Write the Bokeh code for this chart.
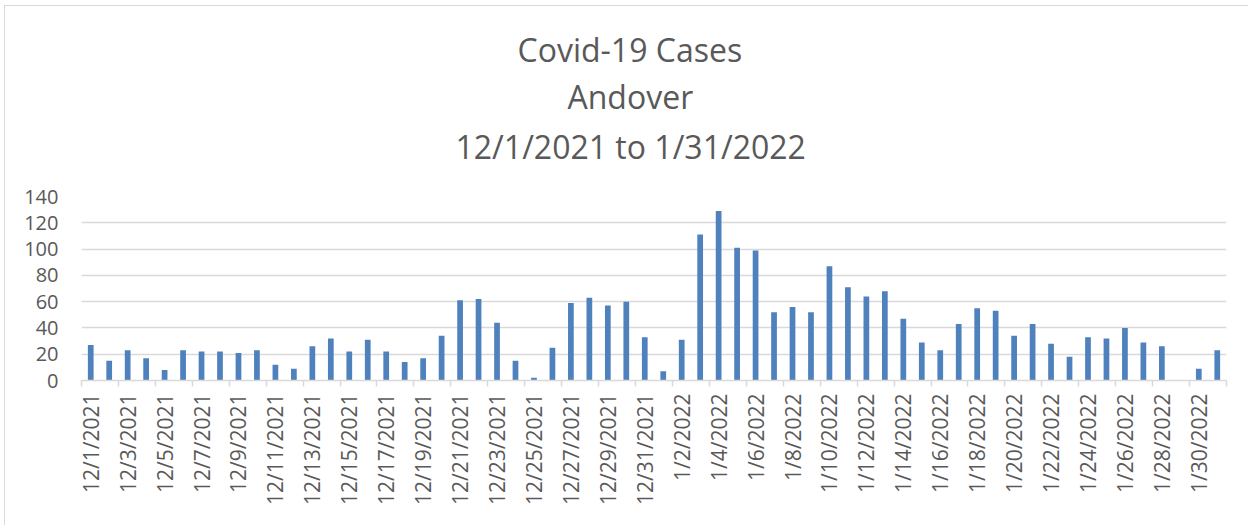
from bokeh.plotting import figure
from bokeh.models import ColumnDataSource, FixedTicker, Range1d, Title
from bokeh.embed import file_html
from bokeh.resources import INLINE
import math

# ---- data ----
dates = [f"12/{d}/2021" for d in range(1, 32)] + [f"1/{d}/2022" for d in range(1, 32)]
cases = [27, 15, 23, 17, 8, 23, 22, 22, 21, 23,
         12, 9, 26, 32, 22, 31, 22, 14, 17, 34,
         61, 62, 44, 15, 2, 25, 59, 63, 57, 60,
         33, 7, 31, 111, 129, 101, 99, 52, 56, 52,
         87, 71, 64, 68, 47, 29, 23, 43, 55, 53,
         34, 43, 28, 18, 33, 32, 40, 29, 26, 0,
         9, 23]
y_ticks = [0, 20, 40, 60, 80, 100, 120, 140]
title_lines = ["Covid-19 Cases", "Andover", "12/1/2021 to 1/31/2022"]

pos = list(range(1, len(dates) + 1))
src = ColumnDataSource(dict(x=pos, cases=cases, date=dates))

TXT = "#595959"
GRID = "#d9d9d9"
FONT = "Open Sans"

p = figure(width=1243, height=519, output_backend="svg", toolbar_location=None,
           title=None, x_range=Range1d(0.5, len(dates) + 0.5), y_range=Range1d(0, 140),
           min_border_left=76, min_border_right=22, min_border_top=190, min_border_bottom=145)
p.background_fill_color = "white"
p.border_fill_color = "white"
p.outline_line_color = None
p.styles = {"margin-left": "5px", "margin-top": "6px",
            "outline": "1.5px solid #d9d9d9", "outline-offset": "0px"}

p.vbar(x="x", top="cases", width=0.31, source=src, fill_color="#4f81bd", line_color=None)

# spacer between plot frame and the title block
p.add_layout(Title(text=" ", text_font_size="17.5px", standoff=0, text_font=FONT), "above")

# titles (added nearest-first), left-aligned with offsets so they centre near x=629
title_offsets = [436, 486, 374]
standoffs = [0, 4, 6]
for line, off, so in reversed(list(zip(title_lines, title_offsets, standoffs))):
    t = Title(text=line, align="left", text_font_size="32px", text_font=FONT,
              text_color=TXT, text_font_style="normal", standoff=so, offset=off)
    p.add_layout(t, "above")

# y axis
p.yaxis.ticker = FixedTicker(ticks=y_ticks)
p.yaxis.axis_line_color = None
p.yaxis.major_tick_line_color = None
p.yaxis.minor_tick_line_color = None
p.yaxis.major_tick_out = 0
p.yaxis.major_tick_in = 0
p.yaxis.major_label_standoff = 23
p.yaxis.major_label_text_font = FONT
p.yaxis.major_label_text_font_size = "20px"
p.yaxis.major_label_text_color = TXT

p.ygrid.grid_line_color = GRID
p.ygrid.grid_line_width = 1.5
p.xgrid.grid_line_color = None

# x axis: labels on every other day, ticks at boundaries of pairs
label_pos = pos[::2]
bounds = [x - 0.5 for x in pos[::2]] + [len(dates) + 0.5]
p.xaxis.ticker = FixedTicker(ticks=label_pos, minor_ticks=bounds)
p.xaxis.major_label_overrides = {x: dates[x - 1] for x in label_pos}
p.xaxis.major_label_orientation = math.pi / 2
p.xaxis.major_tick_line_color = None
p.xaxis.major_tick_out = 0
p.xaxis.major_tick_in = 0
p.xaxis.minor_tick_line_color = GRID
p.xaxis.minor_tick_line_width = 1.5
p.xaxis.minor_tick_in = 0
p.xaxis.minor_tick_out = 6
p.xaxis.axis_line_color = GRID
p.xaxis.axis_line_width = 1.5
p.xaxis.major_label_standoff = 7
p.xaxis.major_label_text_font = FONT
p.xaxis.major_label_text_font_size = "21px"
p.xaxis.major_label_text_color = TXT

open("out.html", "w").write(file_html(p, INLINE))
